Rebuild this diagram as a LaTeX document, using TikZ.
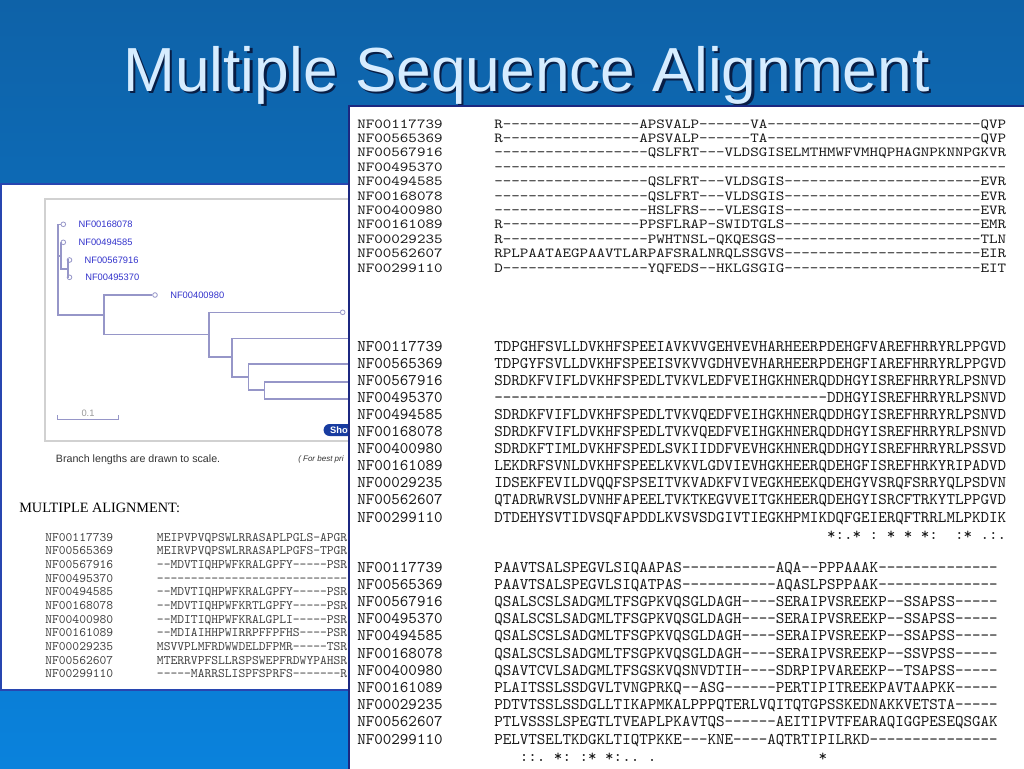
\documentclass[tikz,border=0pt]{standalone}
\usepackage{fontspec}
\newfontfamily\titlefont{Liberation Sans}
\newfontfamily\uifont{Liberation Sans}
\newfontfamily\headfont{Liberation Serif}
\newfontfamily\seqfont{lmmono10-regular}[Extension=.otf,Ligatures=TeXOff]
\definecolor{bgtop}{RGB}{14,98,168}
\definecolor{bgbottom}{RGB}{10,130,220}
\definecolor{titleblue}{RGB}{214,236,255}
\definecolor{titledark}{RGB}{8,30,70}
\definecolor{panelnavy}{RGB}{28,40,128}
\definecolor{panelblue}{RGB}{40,70,176}
\definecolor{treeline}{RGB}{150,150,200}
\definecolor{leafblue}{RGB}{51,51,204}
\definecolor{btnblue}{RGB}{24,60,160}
\newcommand\gaps[1]{\foreach\k in {1,...,#1}{-}}

\begin{document}
\begin{tikzpicture}[x=0.75pt, y=-0.75pt]
		\tikzstyle{seqtext} = [anchor=base west, inner sep=0pt, font=\seqfont\fontsize{12.19}{14}\selectfont\frenchspacing, text=black!90]
		\tikzstyle{flatseq} = [seqtext, yscale=0.85]
		\tikzstyle{smallseq} = [anchor=base west, inner sep=0pt, font=\seqfont\fontsize{9.71}{12}\selectfont, text=black!75]
		\tikzstyle{leaf} = [draw=treeline, fill=white, circle, inner sep=0pt, minimum size=3.5pt, line width=0.6pt]
		\tikzstyle{leaflabel} = [anchor=west, inner sep=0pt, font=\uifont\fontsize{7}{8}\selectfont, text=leafblue]
		\tikzstyle{branch} = [draw=treeline, line width=1.2pt]
		\tikzstyle{panel} = [fill=white, line width=1.6pt]
		\tikzstyle{titletext} = [anchor=base, inner sep=0pt, font=\titlefont\fontsize{46.7}{56}\selectfont]
	% Fondo
		\useasboundingbox (0,0) rectangle (1024,768);
		\shade[top color=bgtop, bottom color=bgbottom] (0,0) rectangle (1024,768);

	% Titulo
		\node[titletext, text=titledark] (titleshade) at (529,93.5) {Multiple Sequence Alignment};
		\node[titletext, text=titleblue] (title) at (526.5,91) {Multiple Sequence Alignment};

	% Panel izquierdo
		\draw[panel, draw=panelblue] (1,184) rectangle (372,690);
		\draw[draw=black!18, line width=1.2pt] (45,199) rectangle (372,441);

	% Arbol
		\coordinate (r) at (57.7,270);
		\coordinate (s1) at (60.7,256);
		\coordinate (s2) at (67.7,269);
		\coordinate (n1) at (104,315);
		\coordinate (n2) at (209,334.3);
		\coordinate (n3) at (231.7,357);
		\coordinate (n4) at (248.3,376.7);
		\coordinate (n5) at (264.3,390);
		\coordinate (e7) at (380,338.3);
		\coordinate (e8) at (380,364);
		\coordinate (e9) at (380,381.7);
		\coordinate (e10) at (380,399);

		\node[leaf] (L1) at (63.3,224.3) {};
		\node[leaf] (L2) at (63.3,242.3) {};
		\node[leaf] (L3) at (69.5,260) {};
		\node[leaf] (L4) at (69.5,277.3) {};
		\node[leaf] (L5) at (155,295) {};
		\node[leaf] (L6) at (342.7,312.3) {};

		\node[leaflabel] (lab1) at (78.3,224.3) {NF00168078};
		\node[leaflabel] (lab2) at (78.3,242.3) {NF00494585};
		\node[leaflabel] (lab3) at (84.3,260) {NF00567916};
		\node[leaflabel] (lab4) at (85,277.3) {NF00495370};
		\node[leaflabel] (lab5) at (170,295) {NF00400980};

		\draw[branch] (r) |- (L1);
		\draw[branch] (r) |- (s1);
		\draw[branch] (r) |- (n1);
		\draw[branch] (s1) |- (L2);
		\draw[branch] (s1) |- (s2);
		\draw[branch] (s2) |- (L3);
		\draw[branch] (s2) |- (L4);
		\draw[branch] (n1) |- (L5);
		\draw[branch] (n1) |- (n2);
		\draw[branch] (n2) |- (L6);
		\draw[branch] (n2) |- (n3);
		\draw[branch] (n3) |- (e7);
		\draw[branch] (n3) |- (n4);
		\draw[branch] (n4) |- (e8);
		\draw[branch] (n4) |- (n5);
		\draw[branch] (n5) |- (e9);
		\draw[branch] (n5) |- (e10);

		\coordinate (sbl) at (57.7,419.3);
		\coordinate (sbr) at (118.3,419.3);
		\draw[draw=treeline, line width=0.8pt] (sbl) ++(0,-4) -- (sbl) -- (sbr) -- ++(0,-4);
		\node[anchor=base, inner sep=0pt, font=\uifont\fontsize{7}{8}\selectfont, text=black!40] (sblab) at (88,416.5) {0.1};

		\node[anchor=west, fill=btnblue, rounded corners=4.5pt, minimum height=9pt, text width=34pt, align=left, inner xsep=5pt, inner ysep=0pt, text=white, font=\uifont\bfseries\fontsize{7}{8}\selectfont] (show) at (323.3,430) {Show};

		\node[anchor=west, inner sep=0pt, font=\uifont\fontsize{8}{9}\selectfont, text=black!80] (note) at (55.7,459.3) {Branch lengths are drawn to scale.};
		\node[anchor=west, inner sep=0pt, font=\uifont\itshape\fontsize{6}{7}\selectfont, text=black!80] (hint) at (298,459.3) {( For best pri};

	% Alineamiento pequeno
		\node[anchor=base west, inner sep=0pt, font=\headfont\fontsize{10.7}{12}\selectfont] (alnhead) at (19,512.3) {MULTIPLE ALIGNMENT:};
		\foreach \nm/\sq [count=\i from 0] in {
			NF00117739/MEIPVPVQPSWLRRASAPLPGLS-APGR,
			NF00565369/MEIRVPVQPSWLRRASAPLPGFS-TPGR,
			NF00567916/\gaps{2}MDVTIQHPWFKRALGPFY\gaps{5}PSR,
			NF00495370/\gaps{28},
			NF00494585/\gaps{2}MDVTIQHPWFKRALGPFY\gaps{5}PSR,
			NF00168078/\gaps{2}MDVTIQHPWFKRTLGPFY\gaps{5}PSR,
			NF00400980/\gaps{2}MDITIQHPWFKRALGPLI\gaps{5}PSR,
			NF00161089/\gaps{2}MDIAIHHPWIRRPFFPFHS\gaps{4}PSR,
			NF00029235/MSVVPLMFRDWWDELDFPMR\gaps{5}TSR,
			NF00562607/MTERRVPFSLLRSPSWEPFRDWYPAHSR,
			NF00299110/\gaps{5}MARRSLISPFSPRFS\gaps{7}R}
		{
			\node[smallseq] (lname\i) at (45,541+13.67*\i) {\nm};
			\node[smallseq] (lseq\i) at (156.7,541+13.67*\i) {\sq};
		}

	% Panel derecho
		\draw[panel, draw=panelnavy] (349,106) rectangle (1030,775);
		\foreach \nm/\sa/\sb/\sc [count=\i from 0] in {
			NF00117739/R\gaps{16}APSVALP\gaps{6}VA\gaps{25}QVP/TDPGHFSVLLDVKHFSPEEIAVKVVGEHVEVHARHEERPDEHGFVAREFHRRYRLPPGVD/PAAVTSALSPEGVLSIQAAPAS\gaps{11}AQA\gaps{2}PPPAAAK\gaps{14},
			NF00565369/R\gaps{16}APSVALP\gaps{6}TA\gaps{25}QVP/TDPGYFSVLLDVKHFSPEEISVKVVGDHVEVHARHEERPDEHGFIAREFHRRYRLPPGVD/PAAVTSALSPEGVLSIQATPAS\gaps{11}AQASLPSPPAAK\gaps{14},
			NF00567916/\gaps{18}QSLFRT\gaps{3}VLDSGISELMTHMWFVMHQPHAGNPKNNPGKVR/SDRDKFVIFLDVKHFSPEDLTVKVLEDFVEIHGKHNERQDDHGYISREFHRRYRLPSNVD/QSALSCSLSADGMLTFSGPKVQSGLDAGH\gaps{4}SERAIPVSREEKP\gaps{2}SSAPSS\gaps{5},
			NF00495370/\gaps{60}/\gaps{39}DDHGYISREFHRRYRLPSNVD/QSALSCSLSADGMLTFSGPKVQSGLDAGH\gaps{4}SERAIPVSREEKP\gaps{2}SSAPSS\gaps{5},
			NF00494585/\gaps{18}QSLFRT\gaps{3}VLDSGIS\gaps{23}EVR/SDRDKFVIFLDVKHFSPEDLTVKVQEDFVEIHGKHNERQDDHGYISREFHRRYRLPSNVD/QSALSCSLSADGMLTFSGPKVQSGLDAGH\gaps{4}SERAIPVSREEKP\gaps{2}SSAPSS\gaps{5},
			NF00168078/\gaps{18}QSLFRT\gaps{3}VLDSGIS\gaps{23}EVR/SDRDKFVIFLDVKHFSPEDLTVKVQEDFVEIHGKHNERQDDHGYISREFHRRYRLPSNVD/QSALSCSLSADGMLTFSGPKVQSGLDAGH\gaps{4}SERAIPVSREEKP\gaps{2}SSVPSS\gaps{5},
			NF00400980/\gaps{18}HSLFRS\gaps{3}VLESGIS\gaps{23}EVR/SDRDKFTIMLDVKHFSPEDLSVKIIDDFVEVHGKHNERQDDHGYISREFHRRYRLPSSVD/QSAVTCVLSADGMLTFSGSKVQSNVDTIH\gaps{4}SDRPIPVAREEKP\gaps{2}TSAPSS\gaps{5},
			NF00161089/R\gaps{16}PPSFLRAP-SWIDTGLS\gaps{23}EMR/LEKDRFSVNLDVKHFSPEELKVKVLGDVIEVHGKHEERQDEHGFISREFHRKYRIPADVD/PLAITSSLSSDGVLTVNGPRKQ\gaps{2}ASG\gaps{6}PERTIPITREEKPAVTAAPKK\gaps{5},
			NF00029235/R\gaps{17}PWHTNSL-QKQESGS\gaps{24}TLN/IDSEKFEVILDVQQFSPSEITVKVADKFVIVEGKHEEKQDEHGYVSRQFSRRYQLPSDVN/PDTVTSSLSSDGLLTIKAPMKALPPPQTERLVQITQTGPSSKEDNAKKVETSTA\gaps{5},
			NF00562607/RPLPAATAEGPAAVTLARPAFSRALNRQLSSGVS\gaps{23}EIR/QTADRWRVSLDVNHFAPEELTVKTKEGVVEITGKHEERQDEHGYISRCFTRKYTLPPGVD/PTLVSSSLSPEGTLTVEAPLPKAVTQS\gaps{6}AEITIPVTFEARAQIGGPESEQSGAK,
			NF00299110/D\gaps{17}YQFEDS\gaps{2}HKLGSGIG\gaps{23}EIT/DTDEHYSVTIDVSQFAPDDLKVSVSDGIVTIEGKHPMIKDQFGEIERQFTRRLMLPKDIK/PELVTSELTKDGKLTIQTPKKE\gaps{3}KNE\gaps{4}AQTRTIPILRKD\gaps{15}}
		{
			\node[flatseq] (nameA\i) at (357,128+14.4*\i) {\nm};
			\node[flatseq] (seqA\i) at (494,128+14.4*\i) {\sa};
			\node[seqtext] (nameB\i) at (357,351+17.1*\i) {\nm};
			\node[seqtext] (seqB\i) at (494,351+17.1*\i) {\sb};
			\node[seqtext] (nameC\i) at (357,572+17.2*\i) {\nm};
			\node[seqtext] (seqC\i) at (494,572+17.2*\i) {\sc};
		}
		\node[seqtext] (consB) at (826.8,539.1) {*:.*~:~*~*~*:~~:*~.:.};
		\node[seqtext] (consC) at (519.6,761.2) {::.~*:~:*~*:..~.};
		\node[seqtext] (consCstar) at (818.3,761.2) {*};
\end{tikzpicture}
\end{document}
